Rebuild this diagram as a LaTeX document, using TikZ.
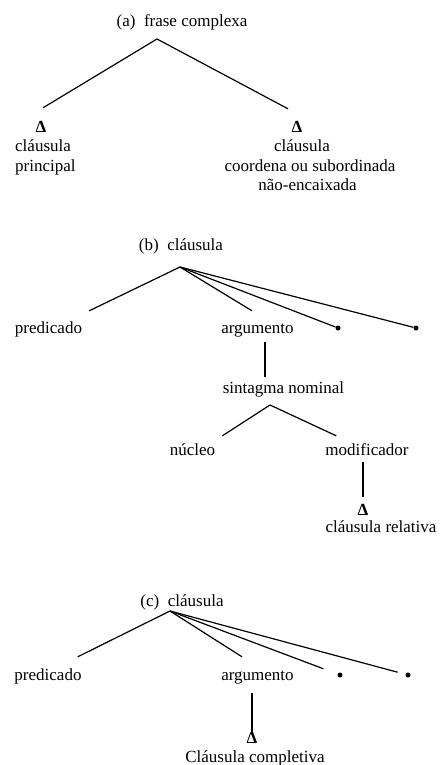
\documentclass[tikz,border=0pt]{standalone}
\usepackage{fontspec}
\setmainfont{Liberation Serif}
\usepackage{tikz}
\usetikzlibrary{positioning}
\tikzstyle{word} = [inner sep=1pt, anchor=base, text height=12pt, text depth=4pt, font=\fontsize{17}{20}\selectfont]
\tikzstyle{tri} = [inner sep=1pt, anchor=base, text height=10pt, text depth=0pt, font=\bfseries\fontsize{17}{17}\selectfont]
\tikzstyle{dot} = [circle, fill=black, inner sep=0pt, minimum size=5pt]
\tikzstyle{branch} = [line width=1.2pt]

\begin{document}
\begin{tikzpicture}[x=1pt,y=-1pt]
	\useasboundingbox (0,0) rectangle (440,765);
	% (a)
	\node[word] (fc) at (182,27) {(a)\enspace frase complexa};
	\coordinate (fcT) at (157,39);
	\node[tri] (tl) at (41,132) {Δ};
	\node[word,anchor=base west] (clp) at (14,151) {cláusula};
	\node[word,anchor=base west] (pri) at (14,171) {principal};
	\node[tri] (tr) at (297,132) {Δ};
	\node[word] (clc) at (302,151) {cláusula};
	\node[word] (cos) at (310,171) {coordena ou subordinada};
	\node[word] (nae) at (307.5,190) {não-encaixada};
	\draw[branch] (fcT) -- ([xshift=2pt,yshift=13pt]tl.north);
	\draw[branch] (fcT) -- ([xshift=-9pt,yshift=12pt]tr.north);
	% (b)
	\node[word] (cb) at (181,250) {(b)\enspace cláusula};
	\coordinate (cbT) at (180,267);
	\node[word] (pred) at (48.5,333) {predicado};
	\node[word] (arg) at (257.5,333) {argumento};
	\node[dot] (d1) at (338,328) {};
	\node[dot] (d2) at (416,328) {};
	\node[word] (sn) at (283.5,393) {sintagma nominal};
	\coordinate (snT) at (270,405);
	\node[word] (nuc) at (192.5,455) {núcleo};
	\node[word] (mod) at (367,455) {modificador};
	\node[tri] (tm) at (363,515) {Δ};
	\node[word] (rel) at (381,532) {cláusula relativa};
	\draw[branch] (cbT) -- ([xshift=6pt,yshift=9pt]pred.north east);
	\draw[branch] (cbT) -- ([xshift=-5.5pt,yshift=9pt]arg.north);
	\draw[branch] (cbT) -- (d1);
	\draw[branch] (cbT) -- (d2);
	\draw[branch] ([xshift=7.5pt,yshift=-4pt]arg.south) -- ([xshift=-18.5pt,yshift=3pt]sn.north);
	\draw[branch] (snT) -- ([xshift=6pt,yshift=6pt]nuc.north east);
	\draw[branch] (snT) -- ([xshift=12pt,yshift=6pt]mod.north west);
	\draw[branch] ([xshift=-4pt,yshift=-2pt]mod.south) -- ([yshift=7pt]tm.north);
	% (c)
	\node[word] (cc) at (182,606) {(c)\enspace cláusula};
	\coordinate (ccT) at (170,611);
	\node[word] (pred2) at (48,680) {predicado};
	\node[word] (arg2) at (257.5,680) {argumento};
	\node[dot] (e1) at (340,675) {};
	\node[dot] (e2) at (408,675) {};
	\node[tri] (tc) at (252,743) {Δ};
	\node[word] (comp) at (255,762) {Cláusula completiva};
	\draw[branch] (ccT) -- ([xshift=-5pt,yshift=10pt]pred2.north east);
	\draw[branch] (ccT) -- ([xshift=-15.5pt,yshift=10pt]arg2.north);
	\draw[branch,shorten >=15pt] (ccT) -- (e1);
	\draw[branch,shorten >=8pt] (ccT) -- (e2);
	\draw[branch] ([xshift=-5.5pt,yshift=-8pt]arg2.south) -- (tc.north);
\end{tikzpicture}
\end{document}
